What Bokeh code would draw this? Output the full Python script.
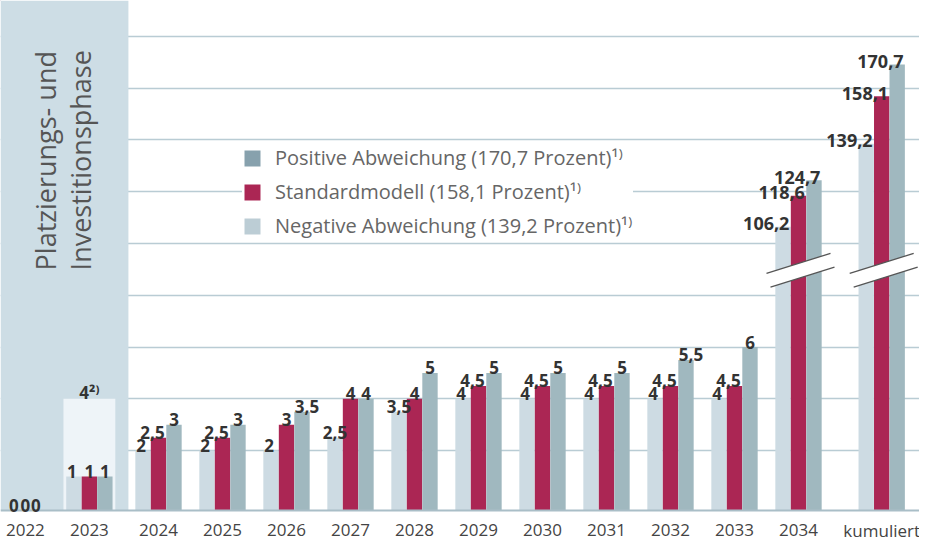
import math
from bokeh.plotting import figure
from bokeh.models import ColumnDataSource, Range1d, Legend, LegendItem
from bokeh.core.properties import value
from bokeh.embed import file_html
from bokeh.resources import INLINE

# ---------------- data ----------------
categories = ["2022", "2023", "2024", "2025", "2026", "2027", "2028",
              "2029", "2030", "2031", "2032", "2033", "2034", "kumuliert"]
negative = [0, 1, 2, 2, 2, 2.5, 3.5, 4, 4, 4, 4, 4, 106.2, 139.2]
standard = [0, 1, 2.5, 2.5, 3, 4, 4, 4.5, 4.5, 4.5, 4.5, 4.5, 118.6, 158.1]
positive = [0, 1, 3, 3, 3.5, 4, 5, 5, 5, 5, 5.5, 6, 124.7, 170.7]
phase_categories = ["2022", "2023"]
phase_label = ["Platzierungs- und", "Investitionsphase"]
box_category = "2023"
box_value = 4
box_label = "4\u00b2\u207e"
legend_labels = ["Positive Abweichung (170,7 Prozent)\u00b9\u207e",
                 "Standardmodell (158,1 Prozent)\u00b9\u207e",
                 "Negative Abweichung (139,2 Prozent)\u00b9\u207e"]
grid_values = [2, 4, 6, 8, 10, 12, 14, 16, 18]

# ---------------- styling / layout ----------------
FONT_NAME = "Open Sans"
FONT = value(FONT_NAME)
C_NEG, C_STD, C_POS = "#cddbe3", "#ab2654", "#a0b8bf"
L_NEG, L_STD, L_POS = "#bccdd5", "#ab2654", "#87a1ad"
PANEL = "#cddde5"
BOX = "#eef4f8"
GRID = "#b9ccd4"
W, H = 919, 541
PX_X = 64.0      # px per category step
PX_Y = 25.9      # px per value unit (lower scale)
BASE = -0.313    # baseline (bars start here)
CAP = 50         # values above this are drawn on the broken (compressed) scale
BREAK_SCALE, BREAK_SHIFT = 0.0971, 0.33
BAR_W, DODGE = 0.24, 0.242
PHASE_SHIFT = -0.08
SUM_GAP = 0.3
LABEL_Y = -1.083

x_pos = [float(i) for i in range(len(categories))]
for c in phase_categories:
    x_pos[categories.index(c)] += PHASE_SHIFT
x_pos[-1] += SUM_GAP   # extra gap before the cumulative column

def disp(v):
    if v > CAP:
        return BREAK_SHIFT + BREAK_SCALE * v
    return v if v > 0 else BASE

def fmt(v):
    return str(int(v)) if float(v).is_integer() else str(v).replace(".", ",")

x0 = -30.0 / PX_X
y_top = 19.38
p = figure(width=W, height=H, output_backend="svg", toolbar_location=None,
           x_range=Range1d(x0, x0 + W / PX_X), y_range=Range1d(y_top - H / PX_Y, y_top),
           x_axis_location=None, y_axis_location=None, min_border=0,
           outline_line_color=None, background_fill_color="white", border_fill_color="white")
p.xgrid.visible = False
p.ygrid.visible = False

# gridlines
p.hspan(y=grid_values, line_color=GRID, line_width=1.5)

# phase panel
idx = {c: i for i, c in enumerate(categories)}
last_phase = x_pos[idx[phase_categories[-1]]]
p.quad(left=[x0], right=[last_phase + 0.61], bottom=[BASE], top=[y_top],
       fill_color=PANEL, line_color=None)
bx = x_pos[idx[box_category]]
p.quad(left=[bx - 0.405], right=[bx + 0.405], bottom=[BASE], top=[box_value],
       fill_color=BOX, line_color=None)
p.text(x=[bx], y=[box_value], text=[box_label], text_font=FONT, text_font_size="17px",
       text_font_style="bold", text_color="#333333", text_align="center",
       text_baseline="alphabetic", y_offset=-6)

p.text(x=[15 / PX_X, 50 / PX_X], y=[8.96, 8.96], text=phase_label,
       angle=math.pi / 2, text_font=FONT, text_font_size="27px", text_color="#555555",
       text_align="left", text_baseline="middle")

# bars
series = [("neg", negative, C_NEG, -DODGE), ("std", standard, C_STD, 0.0), ("pos", positive, C_POS, DODGE)]
small = dict(x=[], y=[], t=[], dx=[])
big = dict(x=[], y=[], t=[])
for key, vals, col, d in series:
    xs = [x + d for x in x_pos]
    tops = [disp(v) for v in vals]
    p.vbar(x=xs, top=tops, bottom=BASE, width=BAR_W, fill_color=col, line_color=None)
    for x, v, t in zip(xs, vals, tops):
        s = fmt(v)
        if v > CAP:
            big["x"].append(x + 0.1); big["y"].append(t); big["t"].append(s)
        else:
            if v == 0:
                dx = {"neg": 4, "std": 0, "pos": -5}[key]
            elif "," in s:
                dx = {"neg": 0, "std": -6, "pos": 5}[key]
            else:
                dx = -2 if key == "neg" else 0
            small["x"].append(x); small["y"].append(t); small["t"].append(s); small["dx"].append(dx)

# break marks on compressed columns (slope and band in screen px converted to data units)
s = (20 / PX_Y) / (64 / PX_X)
vu = 9.23
vl = vu - 15 / PX_Y
for i, c in enumerate(x_pos):
    if max(negative[i], standard[i], positive[i]) > CAP:
        h = 0.42
        p.patch(x=[c - h, c + h, c + h, c - h],
                y=[vl - h * s, vl + h * s, vu + h * s, vu - h * s],
                fill_color="white", line_color=None)
        p.segment(x0=[c - 0.5, c - 0.4375], y0=[vu - 0.5 * s, vl - 0.4375 * s],
                  x1=[c + 0.5, c + 0.5625], y1=[vu + 0.5 * s, vl + 0.5625 * s],
                  line_color="#555555", line_width=1.3)

# baseline
p.hspan(y=[BASE], line_color="#a9bec7", line_width=2)

# value labels
p.text(x="x", y="y", text="t", x_offset="dx", source=ColumnDataSource(small),
       text_font=FONT, text_font_size="17px", text_font_style="bold", text_color="#333333",
       text_align="center", text_baseline="alphabetic", y_offset=-5)
p.text(x="x", y="y", text="t", source=ColumnDataSource(big),
       text_font=FONT, text_font_size="18px", text_font_style="bold", text_color="#333333",
       text_align="right", text_baseline="alphabetic", y_offset=-3)

# category labels
p.text(x=x_pos, y=[LABEL_Y] * len(x_pos), text=categories, text_font=FONT,
       text_font_size="17px", text_color="#444444", text_align="center",
       text_baseline="alphabetic")

# legend (swatches from zero-size sample glyphs outside the visible range)
far_x, far_y = [x0 - 50], [y_top + 50]
r_pos = p.vbar(x=far_x, top=far_y, bottom=far_y, width=0.1, fill_color=L_POS, line_color=None)
r_std = p.vbar(x=far_x, top=far_y, bottom=far_y, width=0.1, fill_color=L_STD, line_color=None)
r_neg = p.vbar(x=far_x, top=far_y, bottom=far_y, width=0.1, fill_color=L_NEG, line_color=None)
legend = Legend(items=[LegendItem(label=legend_labels[0], renderers=[r_pos]),
                       LegendItem(label=legend_labels[1], renderers=[r_std]),
                       LegendItem(label=legend_labels[2], renderers=[r_neg])],
                location=(242, 302), glyph_width=20, glyph_height=20, label_standoff=13,
                spacing=7, padding=20, margin=0, border_line_color=None,
                background_fill_color="white", background_fill_alpha=1.0,
                label_text_font=FONT_NAME, label_text_font_size="20px", label_text_color="#666666")
p.add_layout(legend)

open("out.html", "w").write(file_html(p, INLINE))
